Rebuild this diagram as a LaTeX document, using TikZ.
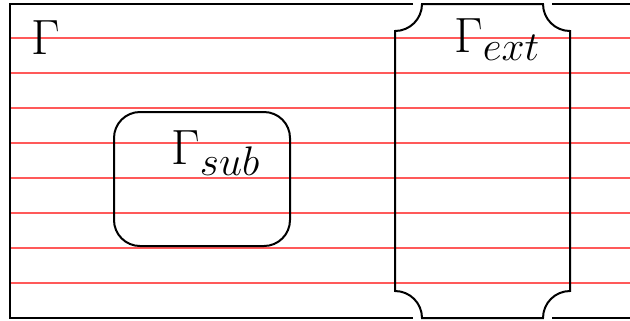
\documentclass[tikz,border=0pt]{standalone}
\begin{document}
\begin{tikzpicture}[x=0.5bp,y=-0.5bp,
  bound/.style={line width=1bp,black},
  gridline/.style={line width=0.75bp,red!65},
  lbl/.style={font=\Huge,inner sep=0pt}]
\useasboundingbox (0,0) rectangle (630,320);
% red horizontal lines
\foreach \k in {0,...,7}{
  \draw[gridline] (10,{38+35*\k}) -- (630,{38+35*\k});
}
% outer domain
\draw[bound] (413,4) -- (10,4) -- (10,318) -- (413,318);
\draw[bound] (552,4) -- (630,4);
\draw[bound] (552,318) -- (630,318);
% extension region
\draw[bound] (422,4) -- (543,4) arc[start angle=180,end angle=90,radius=27]
  -- (570,291) arc[start angle=270,end angle=180,radius=27]
  -- (422,318) arc[start angle=0,end angle=-90,radius=27]
  -- (395,31) arc[start angle=90,end angle=0,radius=27] -- cycle;
% sub region
\draw[bound,rounded corners=13bp] (114,112) rectangle (290,246);
% labels
\node[lbl,anchor=north west] (G) at (31,20) {$\Gamma$};
\node[lbl,anchor=north west] (Gsub) at (171,130) {$\Gamma_{sub}$};
\node[lbl,anchor=north west] (Gext) at (454,18) {$\Gamma_{ext}$};
\end{tikzpicture}
\end{document}
